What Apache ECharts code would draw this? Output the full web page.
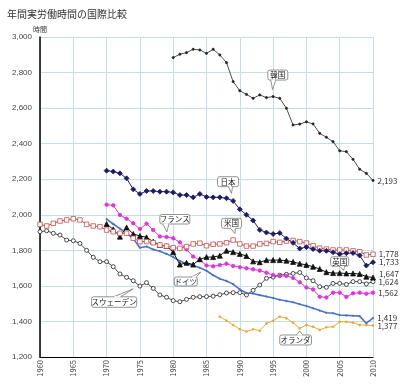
<!DOCTYPE html>
<html><head><meta charset="utf-8">
<script src="https://cdn.jsdelivr.net/npm/echarts@6/dist/echarts.min.js"></script>
<style>html,body{margin:0;padding:0;background:#fff}#c{width:400px;height:384px}</style>
</head><body><div id="c"></div>
<script>
// ---- data (hours per year) ----
const xTicks = [1960, 1965, 1970, 1975, 1980, 1985, 1990, 1995, 2000, 2005, 2010];
const koreaStart = 1980;
const korea = [2884,2903,2912,2931,2927,2908,2931,2899,2856,2749,
  2698,2677,2655,2674,2659,2665,2655,2599,2505,2510,
  2523,2511,2458,2436,2411,2360,2355,2312,2256,2233,2193];
const japanStart = 1970;
const japan = [2248,2243,2233,2205,2143,2117,2134,2134,2130,2130,
  2126,2111,2111,2098,2117,2100,2098,2098,2093,2078,
  2031,2000,1968,1915,1900,1892,1897,1866,1842,1810,
  1818,1807,1798,1797,1789,1778,1784,1785,1771,1714,1733];
const usStart = 1960;
const us = [1946,1937,1952,1965,1971,1978,1971,1946,1937,1933,
  1914,1905,1896,1896,1868,1849,1849,1843,1830,1824,
  1815,1811,1821,1836,1840,1826,1834,1836,1843,1858,
  1836,1824,1824,1836,1839,1849,1845,1852,1856,1849,
  1841,1826,1812,1807,1802,1802,1802,1797,1792,1774,1778];
const franceStart = 1970;
const france = [2057,2053,1999,1978,1952,1920,1950,1914,1878,1875,
  1868,1845,1805,1765,1745,1715,1710,1717,1725,1712,
  1705,1699,1693,1686,1674,1661,1656,1656,1645,1620,
  1591,1580,1539,1535,1562,1562,1538,1558,1562,1556,1562];
const ukStart = 1970;
const uk = [1948,1918,1877,1929,1892,1881,1873,1849,1830,1824,
  1790,1720,1730,1720,1750,1762,1762,1770,1798,1790,
  1780,1768,1738,1733,1745,1745,1745,1742,1735,1725,
  1718,1708,1695,1677,1672,1672,1670,1670,1667,1652,1647];
const germanyStart = 1970;
const germany = [1975,1948,1922,1897,1866,1815,1822,1805,1795,1780,
  1762,1740,1725,1715,1702,1685,1660,1640,1628,1610,
  1580,1560,1557,1548,1540,1532,1522,1515,1508,1497,
  1487,1474,1461,1449,1446,1436,1434,1432,1430,1390,1419];
const swedenStart = 1960;
const sweden = [1905,1910,1896,1886,1858,1854,1839,1800,1761,1736,
  1736,1708,1667,1648,1629,1599,1618,1586,1549,1536,
  1517,1511,1524,1536,1539,1540,1542,1550,1560,1562,
  1562,1549,1575,1605,1643,1650,1660,1665,1670,1675,
  1645,1629,1595,1592,1614,1614,1608,1624,1624,1611,1624];
const nlStart = 1987;
const netherlands = [1427,1404,1380,1356,1343,1356,1348,1389,1404,1427,
  1418,1393,1361,1380,1370,1352,1367,1370,1398,1398,1393,1380,1380,1377];

const FONT = '"Noto Sans CJK JP", "Liberation Sans", sans-serif';
const fmt = v => String(v).replace(/\B(?=(\d{3})+(?!\d))/g, ',');

function pairs(start, arr, labelDy) {
  return arr.map((v, i) => {
    const item = { value: [start + i, v] };
    if (i === arr.length - 1) {
      item.label = { show: true, position: 'right', distance: 3, offset: [0, labelDy || 0],
        formatter: p => fmt(p.value[1]), fontSize: 8, color: '#333', fontFamily: FONT };
    }
    return item;
  });
}

const seriesDefs = [
  { name: '韓国', start: koreaStart, arr: korea, color: '#222', lw: 0.8, symbol: 'circle', size: 2.2, fill: '#222' },
  { name: 'スウェーデン', start: swedenStart, arr: sweden, color: '#222', lw: 0.8, symbol: 'circle', size: 4, fill: '#fff' },
  { name: 'オランダ', start: nlStart, arr: netherlands, color: '#e3ad3c', lw: 1, symbol: 'circle', size: 2, fill: '#e3ad3c' },
  { name: 'ドイツ', start: germanyStart, arr: germany, color: '#4a74c4', lw: 1.6, symbol: 'circle', size: 1.5, fill: '#4a74c4' },
  { name: 'フランス', start: franceStart, arr: france, color: '#dd33dd', lw: 1, symbol: 'circle', size: 3.5, fill: '#dd33dd' },
  { name: '英国', start: ukStart, arr: uk, color: '#111', lw: 1, symbol: 'triangle', size: 5, fill: '#111', labelDy: -3.5 },
  { name: '米国', start: usStart, arr: us, color: '#c0504d', lw: 1, symbol: 'rect', size: 4.5, fill: '#fff' },
  { name: '日本', start: japanStart, arr: japan, color: '#1c1c66', lw: 1, symbol: 'diamond', size: 5, fill: '#1c1c66' }
];

const chart = echarts.init(document.getElementById('c'), null, { renderer: 'canvas' });
chart.setOption({
  animation: false,
  backgroundColor: '#fff',
  title: { text: '年間実労働時間の国際比較', left: 2, top: 4,
    textStyle: { fontSize: 10, fontWeight: 'normal', color: '#333', fontFamily: FONT } },
  grid: { left: 40, right: 27, top: 37, bottom: 27, containLabel: false },
  xAxis: {
    type: 'value', min: 1960, max: 2010, interval: 5,
    axisLine: { show: true, lineStyle: { color: '#000', width: 1 } },
    axisTick: { show: false },
    axisLabel: { rotate: 90, fontSize: 7.5, color: '#444', margin: 3, fontFamily: FONT,
      formatter: v => xTicks.includes(v) ? String(v) : '' },
    splitLine: { show: true, lineStyle: { color: '#c4dde8', width: 1 } }
  },
  yAxis: {
    type: 'value', min: 1200, max: 3000, interval: 200,
    name: '時間', nameLocation: 'end', nameGap: 3,
    nameTextStyle: { fontSize: 7, color: '#333', fontFamily: FONT, align: 'center' },
    axisLine: { show: true, lineStyle: { color: '#000', width: 1.5 } },
    axisTick: { show: false },
    axisLabel: { fontSize: 8, color: '#444', margin: 8, fontFamily: 'Liberation Sans, sans-serif',
      formatter: v => fmt(v) },
    splitLine: { show: true, lineStyle: { color: '#c4dde8', width: 1 } }
  },
  series: seriesDefs.map(d => ({
    name: d.name, type: 'line', data: pairs(d.start, d.arr, d.labelDy),
    symbol: d.symbol, symbolSize: d.size, showSymbol: true,
    lineStyle: { color: d.color, width: d.lw },
    itemStyle: { color: d.fill, borderColor: d.color, borderWidth: 0.8 },
    emphasis: { disabled: true }
  }))
});

// ---- callouts (annotation boxes pointing at a data point) ----
const callouts = [
  { text: '韓国', arr: korea, start: koreaStart, year: 1995, box: [-5.3, -26.5, 20, 10], base: [3, 8], tip: [-0.6, -7] },
  { text: '日本', arr: japan, start: japanStart, year: 1989, box: [-15.6, -24.2, 21, 10], base: [11, 15], tip: [-1.6, -7.5] },
  { text: '米国', arr: us, start: usStart, year: 1989, box: [-11.6, -21.7, 20, 10], base: [9, 14], tip: [1.7, -6.5] },
  { text: 'フランス', arr: france, start: franceStart, year: 1979, box: [-6.7, -22.5, 30, 9.5], base: [3, 9], tip: [0.3, -5] },
  { text: '英国', arr: uk, start: ukStart, year: 2006, box: [-15.7, -16.7, 18, 9.5], base: [9, 14], tip: [-2.7, -3] },
  { text: 'ドイツ', arr: germany, start: germanyStart, year: 1985, box: [-32.2, 6.2, 23, 9], base: [17, 22], tip: [-5.7, 1.2], top: true },
  { text: 'スウェーデン', arr: sweden, start: swedenStart, year: 1975, box: [-48.3, 10.7, 45, 10.5], base: [22, 29], tip: [-6.7, 2.8], top: true },
  { text: 'オランダ', arr: netherlands, start: nlStart, year: 1999, box: [-20, 6.6, 31.7, 10], base: [17, 23], tip: [0, 2.6], top: true }
];

const elements = callouts.map(c => {
  const v = c.arr[c.year - c.start];
  const [ax, ay] = chart.convertToPixel({ gridIndex: 0 }, [c.year, v]);
  const bx = ax + c.box[0], by = ay + c.box[1], bw = c.box[2], bh = c.box[3];
  const edgeY = c.top ? by : by + bh;
  const b1 = [bx + c.base[0], edgeY], b2 = [bx + c.base[1], edgeY];
  const tip = [ax + c.tip[0], ay + c.tip[1]];
  return {
    type: 'group', silent: true,
    children: [
      { type: 'rect', shape: { x: bx, y: by, width: bw, height: bh, r: 2 },
        style: { fill: '#fff', stroke: '#777', lineWidth: 0.8 }, z: 100 },
      { type: 'polyline', shape: { points: [b1, tip, b2] },
        style: { fill: '#fff', stroke: '#777', lineWidth: 0.8 }, z: 101 },
      { type: 'line', shape: { x1: b1[0] + 0.6, y1: edgeY, x2: b2[0] - 0.6, y2: edgeY },
        style: { stroke: '#fff', lineWidth: 1.2 }, z: 102 },
      { type: 'text', z: 103,
        style: { text: c.text, x: bx + bw / 2, y: by + bh / 2 + 0.3, align: 'center', verticalAlign: 'middle',
          textAlign: 'center', textVerticalAlign: 'middle',
          fill: '#222', font: '7.5px ' + FONT } }
    ]
  };
});
chart.setOption({ graphic: { elements } });
</script>
</body></html>
